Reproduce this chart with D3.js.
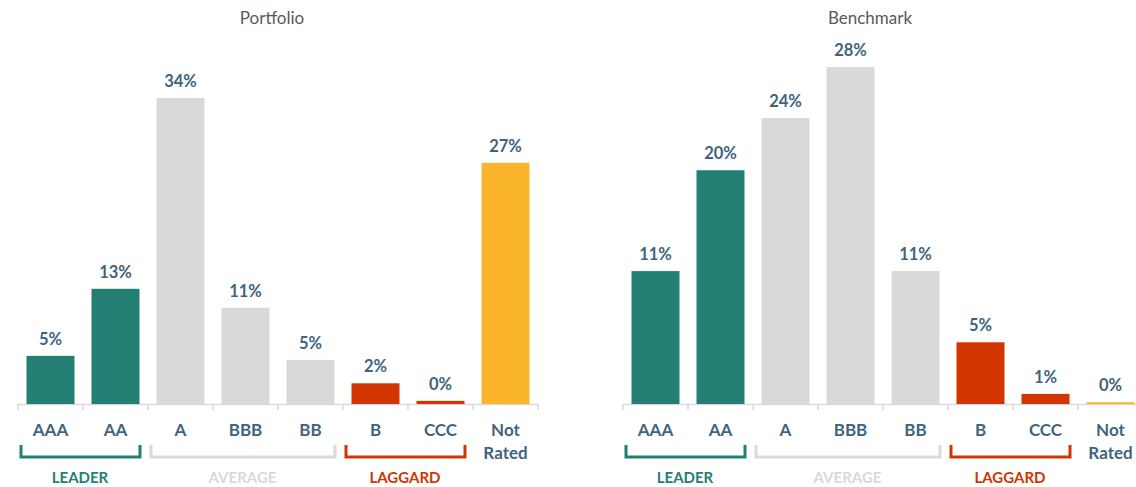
<!DOCTYPE html>
<html>
<head>
<meta charset="utf-8">
<script src="https://cdn.jsdelivr.net/npm/d3@7"></script>
<style>
  body { margin: 0; background: #fff; }
  text { font-family: Lato, "Open Sans", sans-serif; }
</style>
</head>
<body>
<script>
// ratings on the x axis
const ratings = ["AAA", "AA", "A", "BBB", "BB", "B", "CCC", "Not Rated"];
// shares (%)
const portfolio = [5.35, 12.8, 34.0, 10.7, 4.9, 2.3, 0.35, 26.8];
const benchmark = [11.2, 19.7, 24.1, 28.4, 11.2, 5.2, 0.85, 0.15];
const portfolioLabels = ["5%", "13%", "34%", "11%", "5%", "2%", "0%", "27%"];
const benchmarkLabels = ["11%", "20%", "24%", "28%", "11%", "5%", "1%", "0%"];
// bracket groups
const groups = [
  {name: "LEADER", from: "AAA", to: "AA", color: "#237f73"},
  {name: "AVERAGE", from: "A", to: "BB", color: "#d9d9d9"},
  {name: "LAGGARD", from: "B", to: "CCC", color: "#d13600"}
];

const colorOf = {AAA: "#237f73", AA: "#237f73", A: "#d9d9d9", BBB: "#d9d9d9", BB: "#d9d9d9",
  B: "#d13600", CCC: "#d13600", "Not Rated": "#fbb52d"};

const width = 1136, height = 487;
const baseline = 404;

const svg = d3.select("body").append("svg")
  .attr("width", width)
  .attr("height", height);

function drawChart(title, values, labels, x0, titleX) {
  var x = d3.scaleBand()
    .domain(ratings)
    .range([x0, x0 + 65 * ratings.length]);

  var y = d3.scaleLinear()
    .domain([0, d3.max(values)])
    .range([baseline, title == "Portfolio" ? 98 : 67]);

  var g = svg.append("g");

  g.append("text")
    .attr("x", titleX)
    .attr("y", 24)
    .attr("text-anchor", "middle")
    .attr("fill", "#595959")
    .style("font-size", "17px")
    .text(title);

  // axis line + tick marks between bands
  g.append("line")
    .attr("x1", x.range()[0]).attr("x2", x.range()[1])
    .attr("y1", baseline + 0.5).attr("y2", baseline + 0.5)
    .attr("stroke", "#d9d9d9").attr("stroke-width", 1.5);

  g.selectAll(".tick")
    .data(ratings.concat(["end"]))
    .enter().append("line")
    .attr("x1", (d, i) => i < ratings.length ? x(d) : x.range()[1])
    .attr("x2", (d, i) => i < ratings.length ? x(d) : x.range()[1])
    .attr("y1", baseline).attr("y2", baseline + 6)
    .attr("stroke", "#d9d9d9").attr("stroke-width", 1.5);

  var bw = 48;
  var off = (x.bandwidth() - bw) / 2;

  g.selectAll(".bar")
    .data(values)
    .enter().append("rect")
    .attr("x", (d, i) => x(ratings[i]) + off)
    .attr("y", d => y(d))
    .attr("width", bw)
    .attr("height", d => baseline - y(d))
    .attr("fill", (d, i) => colorOf[ratings[i]]);

  g.selectAll(".val")
    .data(values)
    .enter().append("text")
    .attr("x", (d, i) => x(ratings[i]) + x.bandwidth() / 2)
    .attr("y", d => y(d) - 11)
    .attr("text-anchor", "middle")
    .attr("fill", "#3e6480")
    .style("font-size", "16.5px")
    .style("font-weight", "bold")
    .text((d, i) => labels[i]);

  // category labels
  ratings.forEach(function(r) {
    var t = g.append("text")
      .attr("x", x(r) + x.bandwidth() / 2)
      .attr("y", 436)
      .attr("text-anchor", "middle")
      .attr("fill", "#3e6480")
      .style("font-size", "17px")
      .style("font-weight", "bold");
    if (r == "Not Rated") {
      t.append("tspan").attr("x", x(r) + x.bandwidth() / 2).text("Not");
      t.append("tspan").attr("x", x(r) + x.bandwidth() / 2).attr("dy", 23).text("Rated");
    } else {
      t.text(r);
    }
  });

  // brackets
  groups.forEach(function(gr) {
    var a = x(gr.from) + 3, b = x(gr.to) + x.bandwidth() - 8;
    g.append("path")
      .attr("d", "M" + a + ",445 V457 H" + b + " V445")
      .attr("fill", "none")
      .attr("stroke", gr.color)
      .attr("stroke-width", 3);
    g.append("text")
      .attr("x", (x(gr.from) + x(gr.to) + x.bandwidth()) / 2 - 3)
      .attr("y", 483)
      .attr("text-anchor", "middle")
      .attr("fill", gr.color)
      .style("font-size", "15px")
      .style("font-weight", "bold")
      .text(gr.name);
  });
}

drawChart("Portfolio", portfolio, portfolioLabels, 18, 272);
drawChart("Benchmark", benchmark, benchmarkLabels, 623, 870);
</script>
</body>
</html>
